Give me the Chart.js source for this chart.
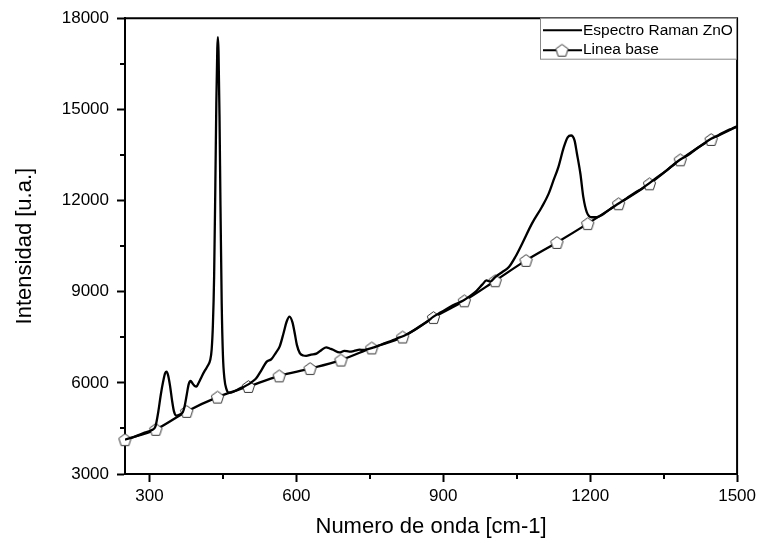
<!DOCTYPE html>
<html>
<head>
<meta charset="utf-8">
<script src="https://cdn.jsdelivr.net/npm/chart.js@4.4.1/dist/chart.umd.min.js"></script>
<style>
    html, body { margin: 0; padding: 0; background: #fff; }
    #wrap { width: 760px; height: 544px; }
</style>
</head>
<body>
<div id="wrap"><canvas id="chart" width="760" height="544"></canvas></div>
<script>
// Espectro Raman ZnO y su linea base
const specX = [250, 270, 290, 305, 312, 318, 323, 328, 332, 335, 338, 342, 346, 350, 355, 362, 368, 372, 376, 380,
    384, 388, 392, 396, 401, 407, 413, 419, 424, 427, 429.5, 432, 434.5, 436.5, 438.5, 439.7, 441, 443, 445, 447.5,
    450, 453, 457, 462, 468, 476, 485, 494, 502, 510, 518, 529, 539, 549, 558, 566, 574, 580, 586, 592,
    597, 601, 607, 614, 620, 630, 641, 652, 661, 668, 675, 688, 698, 708, 718, 729, 737, 746, 755, 763,
    775, 790, 805, 820, 835, 850, 866, 880, 895, 910, 925, 940, 955, 968, 980, 988, 996, 1006, 1020, 1034,
    1047, 1061, 1081, 1101, 1115, 1125, 1135, 1146, 1154, 1161, 1168, 1173, 1180, 1186, 1193, 1203, 1213, 1224, 1240, 1258,
    1275, 1290, 1306, 1321, 1337, 1352, 1368, 1384, 1400, 1415, 1431, 1447, 1462, 1478, 1490, 1500];
const specY = [4130, 4230, 4360, 4450, 4560, 5050, 5600, 6050, 6320, 6370, 6250, 5900, 5430, 5060, 4920, 4960, 5030, 5250, 5600, 5950,
    6060, 5980, 5900, 5880, 6020, 6220, 6400, 6560, 6750, 7100, 7900, 9500, 12500, 15200, 17000, 17380, 16900, 14800, 11800, 8600,
    6900, 6150, 5800, 5680, 5690, 5740, 5820, 5880, 5950, 6040, 6150, 6430, 6690, 6780, 6990, 7200, 7650, 8010, 8180, 7990,
    7600, 7250, 6980, 6900, 6890, 6930, 6960, 7090, 7170, 7130, 7090, 7000, 7050, 7030, 7050, 7090, 7080, 7110, 7150, 7190,
    7270, 7360, 7460, 7550, 7680, 7830, 8000, 8180, 8320, 8460, 8590, 8700, 8860, 9030, 9240, 9370, 9330, 9480, 9640, 9810,
    10140, 10580, 11240, 11780, 12220, 12660, 13100, 13750, 14080, 14140, 13980, 13540, 12880, 12110, 11620, 11450, 11450, 11520, 11710, 11900,
    12080, 12240, 12400, 12570, 12770, 12940, 13150, 13350, 13500, 13680, 13860, 14030, 14150, 14290, 14370, 14440];

const baseX = [250, 313, 376, 439, 502, 565, 628, 691, 754, 817, 880, 943, 1006, 1069, 1132, 1195, 1258, 1321, 1384, 1447, 1500];
const baseY = [4130, 4470, 5060, 5530, 5880, 6230, 6470, 6750, 7150, 7510, 8150, 8700, 9360, 10030, 10620, 11240, 11895, 12550, 13340, 14010, 14435];

const xTicksMajor = [300, 600, 900, 1200, 1500];
const xTicksMinor = [450, 750, 1050, 1350];
const yTicksMajor = [3000, 6000, 9000, 12000, 15000, 18000];
const yTicksMinor = [4500, 7500, 10500, 13500, 16500];
const seriesNames = ['Espectro Raman ZnO', 'Linea base'];

const FONT = '"Liberation Sans", Arial, sans-serif';
Chart.defaults.font.family = FONT;
Chart.defaults.color = '#000';

// marcador pentagonal (hueco)
function makePentagon(size) {
    const c = document.createElement('canvas');
    c.width = size;
    c.height = size;
    const g = c.getContext('2d');
    const r = size / 2 - 1;
    g.beginPath();
    for (let i = 0; i < 5; i++) {
        const a = -Math.PI / 2 + i * 2 * Math.PI / 5;
        const px = size / 2 + r * Math.cos(a);
        const py = size / 2 + r * Math.sin(a) + r * 0.1;
        if (i === 0) g.moveTo(px, py); else g.lineTo(px, py);
    }
    g.closePath();
    g.fillStyle = '#fff';
    g.fill();
    g.strokeStyle = '#333';
    g.lineWidth = 1;
    g.stroke();
    return c;
}
const pentagon = makePentagon(15);

// marco superior/derecho, ticks menores y leyenda
const framePlugin = {
    id: 'frame',
    afterDraw(chart) {
        const ctx = chart.ctx;
        const a = chart.chartArea;
        const xs = chart.scales.x;
        const ys = chart.scales.y;
        ctx.save();
        ctx.strokeStyle = '#000';
        ctx.lineWidth = 2;
        ctx.beginPath();
        ctx.moveTo(a.left, a.top);
        ctx.lineTo(a.right, a.top);
        ctx.lineTo(a.right, a.bottom);
        ctx.stroke();

        ctx.beginPath();
        xTicksMinor.forEach(v => {
            const px = Math.round(xs.getPixelForValue(v));
            ctx.moveTo(px, a.bottom);
            ctx.lineTo(px, a.bottom + 5);
        });
        yTicksMinor.forEach(v => {
            const py = Math.round(ys.getPixelForValue(v));
            ctx.moveTo(a.left, py);
            ctx.lineTo(a.left - 5, py);
        });
        ctx.stroke();

        // leyenda
        const bx = 540.5, by = a.top, bw = 196, bh = 41;
        ctx.fillStyle = '#fff';
        ctx.fillRect(bx, by, bw, bh);
        ctx.strokeStyle = '#888';
        ctx.lineWidth = 1;
        ctx.strokeRect(bx, by, bw, bh);
        ctx.strokeStyle = '#000';
        ctx.lineWidth = 2;
        ctx.beginPath();
        ctx.moveTo(543, by + 12);
        ctx.lineTo(582, by + 12);
        ctx.moveTo(543, by + 32);
        ctx.lineTo(582, by + 32);
        ctx.stroke();
        ctx.drawImage(pentagon, 562 - 7.5, by + 32 - 7.5);
        ctx.fillStyle = '#000';
        ctx.font = '15.5px ' + FONT;
        ctx.textBaseline = 'middle';
        ctx.textAlign = 'left';
        ctx.fillText(seriesNames[0], 583, by + 13);
        ctx.fillText(seriesNames[1], 583, by + 32);
        ctx.restore();
    }
};

const ctx = document.getElementById('chart').getContext('2d');
new Chart(ctx, {
    type: 'line',
    data: {
        datasets: [{
            label: seriesNames[0],
            data: specX.map((x, i) => ({x: x, y: specY[i]})),
            borderColor: '#000',
            borderWidth: 2.3,
            pointRadius: 0,
            cubicInterpolationMode: 'monotone',
            fill: false
        }, {
            label: seriesNames[1],
            data: baseX.map((x, i) => ({x: x, y: baseY[i]})),
            borderColor: '#000',
            borderWidth: 2.3,
            pointStyle: pentagon,
            pointRadius: baseX.map((x, i) => i === baseX.length - 1 ? 0 : 6),
            cubicInterpolationMode: 'monotone',
            fill: false,
            clip: 10
        }]
    },
    options: {
        responsive: false,
        animation: false,
        layout: {
            padding: {top: 17, right: 21, left: 0, bottom: 0}
        },
        plugins: {
            legend: {display: false},
            tooltip: {enabled: false}
        },
        scales: {
            x: {
                type: 'linear',
                min: 250,
                max: 1500,
                afterBuildTicks: s => { s.ticks = xTicksMajor.map(v => ({value: v})); },
                afterFit: s => { s.height = 70; },
                grid: {drawOnChartArea: false, tickLength: 8, tickWidth: 2, tickColor: '#000'},
                border: {color: '#000', width: 2},
                ticks: {color: '#000', font: {size: 17}, padding: 4, maxRotation: 0, autoSkip: false,
                    callback: v => String(v)},
                title: {display: true, text: 'Numero de onda [cm-1]', color: '#000', font: {size: 22}, padding: {top: 0, bottom: 4}}
            },
            y: {
                type: 'linear',
                min: 3000,
                max: 18000,
                afterBuildTicks: s => { s.ticks = yTicksMajor.map(v => ({value: v})); },
                afterFit: s => { s.width = 125; },
                grid: {drawOnChartArea: false, tickLength: 8, tickWidth: 2, tickColor: '#000'},
                border: {color: '#000', width: 2},
                ticks: {color: '#000', font: {size: 17}, padding: 8, autoSkip: false,
                    callback: v => String(v)},
                title: {display: true, text: 'Intensidad [u.a.]', color: '#000', font: {size: 22}, padding: {top: 12, bottom: 0}}
            }
        }
    },
    plugins: [framePlugin]
});
</script>
</body>
</html>
